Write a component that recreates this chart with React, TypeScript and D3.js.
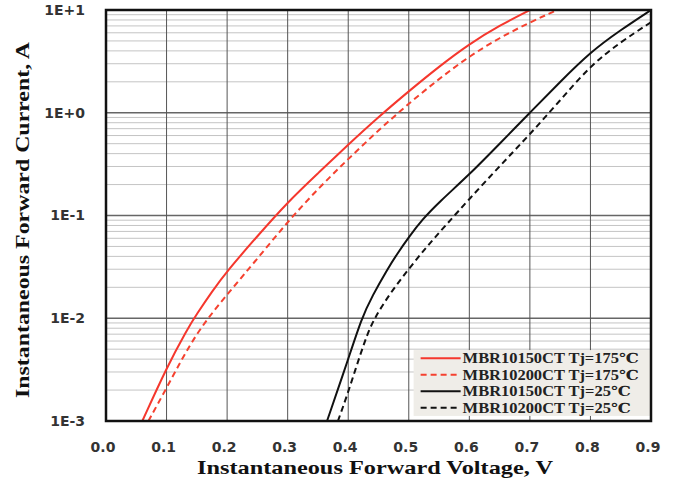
import React, { useRef, useEffect } from 'react';
import * as d3 from 'd3';

interface Pt {
    v: number;
    i: number;
}

// MBR10150CT Tj=175℃
const red150V = [0.06, 0.1, 0.134, 0.15, 0.175, 0.2, 0.25, 0.3, 0.35, 0.4, 0.45, 0.5, 0.55, 0.6, 0.65, 0.7];
const red150I = [1e-3, 3.3e-3, 7.8e-3, 1.1e-2, 1.82e-2, 2.88e-2, 6.3e-2, 0.135, 0.257, 0.49, 0.91, 1.62, 2.82, 4.68, 7.08, 10];
// MBR10200CT Tj=175℃
const red200V = [0.07, 0.1, 0.125, 0.15, 0.175, 0.2, 0.25, 0.3, 0.35, 0.4, 0.45, 0.5, 0.55, 0.6, 0.65, 0.7, 0.745];
const red200I = [1e-3, 2.09e-3, 3.98e-3, 7.08e-3, 1.12e-2, 1.7e-2, 3.8e-2, 8.7e-2, 0.182, 0.355, 0.676, 1.23, 2.14, 3.55, 5.37, 7.59, 10];
// MBR10150CT Tj=25℃
const blk150V = [0.365, 0.4, 0.422, 0.44, 0.464, 0.48, 0.5, 0.522, 0.55, 0.6, 0.65, 0.7, 0.75, 0.8, 0.85, 0.9];
const blk150I = [1e-3, 3.98e-3, 1e-2, 1.66e-2, 2.95e-2, 4.17e-2, 6.17e-2, 9.1e-2, 0.135, 0.25, 0.5, 1.0, 2.0, 3.9, 6.4, 10];
// MBR10200CT Tj=25℃
const blk200V = [0.383, 0.4, 0.428, 0.443, 0.47, 0.5, 0.53, 0.56, 0.6, 0.65, 0.7, 0.75, 0.8, 0.85, 0.9];
const blk200I = [1e-3, 1.9e-3, 6.3e-3, 1e-2, 1.78e-2, 3.02e-2, 5.0e-2, 7.9e-2, 0.145, 0.302, 0.617, 1.32, 2.88, 4.9, 7.6];

const xTicks = [0, 0.1, 0.2, 0.3, 0.4, 0.5, 0.6, 0.7, 0.8, 0.9];
const yTicks = [1e-3, 1e-2, 1e-1, 1, 10];
const yTickLabels = ['1E-3', '1E-2', '1E-1', '1E+0', '1E+1'];

const seriesNames = [
    'MBR10150CT Tj=175℃',
    'MBR10200CT Tj=175℃',
    'MBR10150CT Tj=25℃',
    'MBR10200CT Tj=25℃',
];

const zip = (vs: number[], is: number[]): Pt[] => vs.map((v, k) => ({ v, i: is[k] }));

const series = [
    { name: seriesNames[0], data: zip(red150V, red150I), color: '#f5372d', dash: null, textLen: 176 },
    { name: seriesNames[1], data: zip(red200V, red200I), color: '#f5412f', dash: '6,4', textLen: 176 },
    { name: seriesNames[2], data: zip(blk150V, blk150I), color: '#111111', dash: null, textLen: 168 },
    { name: seriesNames[3], data: zip(blk200V, blk200I), color: '#111111', dash: '6,4', textLen: 168 },
];

const App: React.FC = () => {
    const svgRef = useRef<SVGSVGElement>(null);
    const width = 676;
    const height = 485;

    useEffect(() => {
        if (!svgRef.current) return;
        const svg = d3.select(svgRef.current);
        svg.selectAll('*').remove();

        const margin = { top: 10, right: 25, bottom: 64, left: 106 };
        const innerWidth = width - margin.left - margin.right;
        const innerHeight = height - margin.top - margin.bottom;

        const g = svg.append('g').attr('transform', `translate(${margin.left},${margin.top})`);

        const xScale = d3.scaleLinear().domain([0, 0.9]).range([0, innerWidth]);
        const yScale = d3.scaleLog().domain([1e-3, 10]).range([innerHeight, 0]);

        // Minor horizontal grid
        const minor: number[] = [];
        for (let e = -3; e < 1; e++) {
            for (let m = 2; m <= 9; m++) minor.push(m * Math.pow(10, e));
        }
        g.append('g')
            .selectAll('line')
            .data(minor)
            .join('line')
            .attr('x1', 0)
            .attr('x2', innerWidth)
            .attr('y1', d => yScale(d))
            .attr('y2', d => yScale(d))
            .attr('stroke', '#c4c4c4')
            .attr('stroke-width', 1);

        // Major horizontal grid
        g.append('g')
            .selectAll('line')
            .data(yTicks)
            .join('line')
            .attr('x1', 0)
            .attr('x2', innerWidth)
            .attr('y1', d => yScale(d))
            .attr('y2', d => yScale(d))
            .attr('stroke', '#666')
            .attr('stroke-width', 1.5);

        // Vertical grid
        g.append('g')
            .selectAll('line')
            .data(xTicks)
            .join('line')
            .attr('x1', d => xScale(d))
            .attr('x2', d => xScale(d))
            .attr('y1', 0)
            .attr('y2', innerHeight)
            .attr('stroke', '#555')
            .attr('stroke-width', 1);

        // Legend box (curves never reach it)
        const legX = xScale(0.508);
        const legY = yScale(0.0049);
        const legW = innerWidth - legX;
        const legH = yScale(0.00112) - legY;
        const leg = g.append('g');
        leg.append('rect')
            .attr('x', legX)
            .attr('y', legY)
            .attr('width', legW)
            .attr('height', legH)
            .attr('fill', '#efede8');

        // Curves - basis smooths the hand-read points
        const line = d3.line<Pt>()
            .x(d => xScale(d.v))
            .y(d => yScale(d.i))
            .curve(d3.curveBasis);

        series.forEach(s => {
            g.append('path')
                .datum(s.data)
                .attr('fill', 'none')
                .attr('stroke', s.color)
                .attr('stroke-width', 2)
                .attr('stroke-dasharray', s.dash)
                .attr('d', line);
        });

        // Legend entries
        const rowH = legH / 4;
        series.forEach((s, k) => {
            const cy = legY + rowH * (k + 0.5);
            leg.append('line')
                .attr('x1', legX + 7)
                .attr('x2', legX + 47)
                .attr('y1', cy)
                .attr('y2', cy)
                .attr('stroke', s.color)
                .attr('stroke-width', 2)
                .attr('stroke-dasharray', s.dash);
            leg.append('text')
                .attr('x', legX + 49)
                .attr('y', cy)
                .attr('dy', '0.35em')
                .attr('font-family', 'Liberation Serif, DejaVu Serif, serif')
                .attr('font-weight', 'bold')
                .attr('font-size', 14)
                .attr('fill', '#222')
                .attr('textLength', s.textLen)
                .attr('lengthAdjust', 'spacingAndGlyphs')
                .text(s.name);
        });

        // Plot border
        g.append('rect')
            .attr('x', 0)
            .attr('y', 0)
            .attr('width', innerWidth)
            .attr('height', innerHeight)
            .attr('fill', 'none')
            .attr('stroke', '#111')
            .attr('stroke-width', 2.5);

        // Tick labels
        g.append('g')
            .selectAll('text')
            .data(xTicks)
            .join('text')
            .attr('x', d => xScale(d) - 3)
            .attr('y', innerHeight + 31)
            .attr('text-anchor', 'middle')
            .attr('font-family', 'DejaVu Sans, Verdana, sans-serif')
            .attr('font-weight', 'bold')
            .attr('font-size', 14)
            .attr('fill', '#333')
            .text(d => d.toFixed(1));

        g.append('g')
            .selectAll('text')
            .data(yTicks)
            .join('text')
            .attr('x', -21)
            .attr('y', d => yScale(d))
            .attr('dy', '0.35em')
            .attr('text-anchor', 'end')
            .attr('font-family', 'DejaVu Sans, Verdana, sans-serif')
            .attr('font-weight', 'bold')
            .attr('font-size', 14)
            .attr('fill', '#333')
            .text((_d, k) => yTickLabels[k]);

        // Axis titles
        svg.append('text')
            .attr('x', 375)
            .attr('y', 474)
            .attr('text-anchor', 'middle')
            .attr('font-family', 'Liberation Serif, serif')
            .attr('font-weight', 'bold')
            .attr('font-size', 19)
            .attr('fill', '#111')
            .attr('textLength', 356)
            .attr('lengthAdjust', 'spacingAndGlyphs')
            .text('Instantaneous Forward Voltage, V');

        svg.append('text')
            .attr('transform', 'translate(29,220) rotate(-90)')
            .attr('text-anchor', 'middle')
            .attr('font-family', 'Liberation Serif, serif')
            .attr('font-weight', 'bold')
            .attr('font-size', 19)
            .attr('fill', '#111')
            .attr('textLength', 356)
            .attr('lengthAdjust', 'spacingAndGlyphs')
            .text('Instantaneous Forward Current, A');
    }, []);

    return (
        <svg
            ref={svgRef}
            width={width}
            height={height}
            style={{ position: 'absolute', left: 0, top: 0, background: '#fff' }}
        />
    );
};

export default App;
